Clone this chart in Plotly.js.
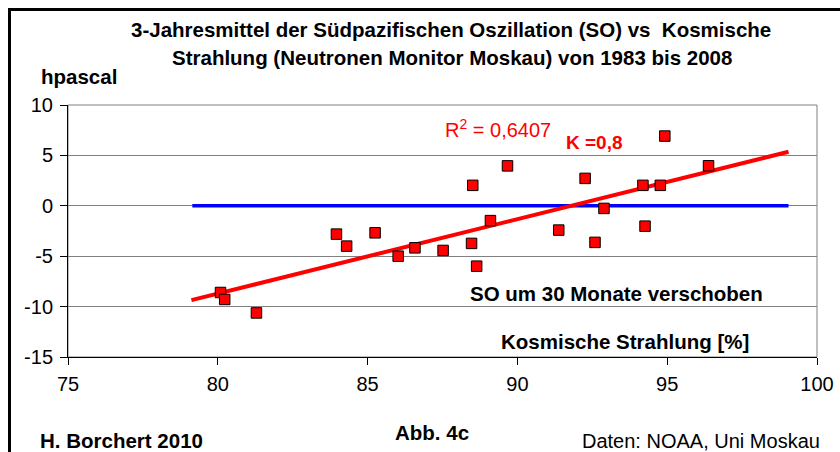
<!DOCTYPE html>
<html>
<head>
<meta charset="utf-8">
<script src="https://cdn.plot.ly/plotly-3.0.1.min.js"></script>
<style>html,body{margin:0;padding:0;background:#fff;}#chart{width:840px;height:452px;}</style>
</head>
<body>
<div id="chart"></div>
<script>
// Data
const cosmicRay = [80.09, 80.23, 81.29, 83.96, 84.30, 85.25, 86.02, 86.58, 87.52, 88.47, 88.51, 88.64, 89.10, 89.67, 91.38, 92.26, 92.59, 92.89, 94.19, 94.26, 94.77, 94.92, 96.38];
const soIndex   = [-8.6, -9.29, -10.63, -2.81, -4.0, -2.68, -5.0, -4.17, -4.43, -3.73, 2.03, -5.99, -1.47, 3.96, -2.41, 2.72, -3.63, -0.26, 2.03, -2.02, 2.03, 6.92, 3.97];
const trendX = [79.12, 99.05];
const trendY = [-9.36, 5.36];
const zeroX = [79.15, 99.05];
const zeroY = [0, 0];
const xTickVals = [75, 80, 85, 90, 95, 100];
const xTickText = ['75', '80', '85', '90', '95', '100'];
const yTickVals = [-15, -10, -5, 0, 5, 10];
const yTickText = ['-15', '-10', '-5', '0', '5', '10'];

const FONT = 'Liberation Sans, Arial, Helvetica, sans-serif';
const L = 68, R = 817, T = 105, B = 357;
const W = 840, H = 452;
const px = x => (x - L) / (R - L);
const py = y => (B - y) / (B - T);

function ann(text, x, y, opts) {
  return Object.assign({
    text: text, xref: 'paper', yref: 'paper', x: px(x), y: py(y),
    xanchor: 'center', yanchor: 'middle', showarrow: false,
    font: {family: FONT, size: 20.5, color: '#000'}
  }, opts || {});
}

const traces = [
  {x: zeroX, y: zeroY, mode: 'lines', line: {color: '#0000FF', width: 3.5}, hoverinfo: 'skip'},
  {x: trendX, y: trendY, mode: 'lines', line: {color: '#FF0000', width: 4}, hoverinfo: 'skip'},
  {x: cosmicRay, y: soIndex, mode: 'markers',
   marker: {symbol: 'square', size: 10.5, color: '#FF0000', line: {color: '#000000', width: 1}}}
];

const layout = {
  width: W, height: H,
  margin: {l: L, r: W - R, t: T, b: H - B, pad: 0},
  paper_bgcolor: '#fff', plot_bgcolor: '#fff',
  showlegend: false,
  xaxis: {
    range: [75, 100], tickvals: xTickVals, ticktext: xTickText,
    showgrid: false, zeroline: false, showline: true, linecolor: '#000', linewidth: 1,
    ticks: 'outside', ticklen: 7, tickcolor: '#000', ticklabelstandoff: 2,
    tickfont: {family: FONT, size: 20, color: '#000'}
  },
  yaxis: {
    range: [-15, 10], tickvals: yTickVals, ticktext: yTickText,
    showgrid: true, gridcolor: '#808080', gridwidth: 1, zeroline: false,
    showline: true, linecolor: '#000', linewidth: 1,
    ticks: 'outside', ticklen: 7, tickcolor: '#000', ticklabelstandoff: 3,
    tickfont: {family: FONT, size: 20, color: '#000'}
  },
  shapes: [
    {type: 'rect', xref: 'paper', yref: 'paper', x0: 0, x1: 1, y0: 0, y1: 1,
     line: {color: '#808080', width: 1}, layer: 'below'},
    {type: 'rect', xref: 'paper', yref: 'paper', x0: px(9.5), x1: px(900), y0: py(9.5), y1: py(520),
     line: {color: '#000', width: 3}, layer: 'above'}
  ],
  annotations: [
    ann('<b>3-Jahresmittel der Südpazifischen Oszillation (SO) vs  Kosmische</b>', 451, 30),
    ann('<b>Strahlung (Neutronen Monitor Moskau) von 1983 bis 2008</b>', 452, 57),
    ann('<b>hpascal</b>', 39, 77, {xanchor: 'left'}),
    ann('R<sup>2</sup> = 0,6407', 443, 128, {xanchor: 'left', font: {family: FONT, size: 20, color: '#FF0000'}}),
    ann('<b>K =0,8</b>', 564, 142, {xanchor: 'left', font: {family: FONT, size: 19, color: '#FF0000'}}),
    ann('<b>SO um 30 Monate verschoben</b>', 616, 293),
    ann('<b>Kosmische Strahlung [%]</b>', 625, 341),
    ann('<b>H. Borchert 2010</b>', 38, 440, {xanchor: 'left'}),
    ann('<b>Abb. 4c</b>', 432, 432),
    ann('Daten: NOAA, Uni Moskau', 580, 441, {xanchor: 'left', font: {family: FONT, size: 20, color: '#000'}})
  ]
};

Plotly.newPlot('chart', traces, layout, {displayModeBar: false, staticPlot: true});
</script>
</body>
</html>
